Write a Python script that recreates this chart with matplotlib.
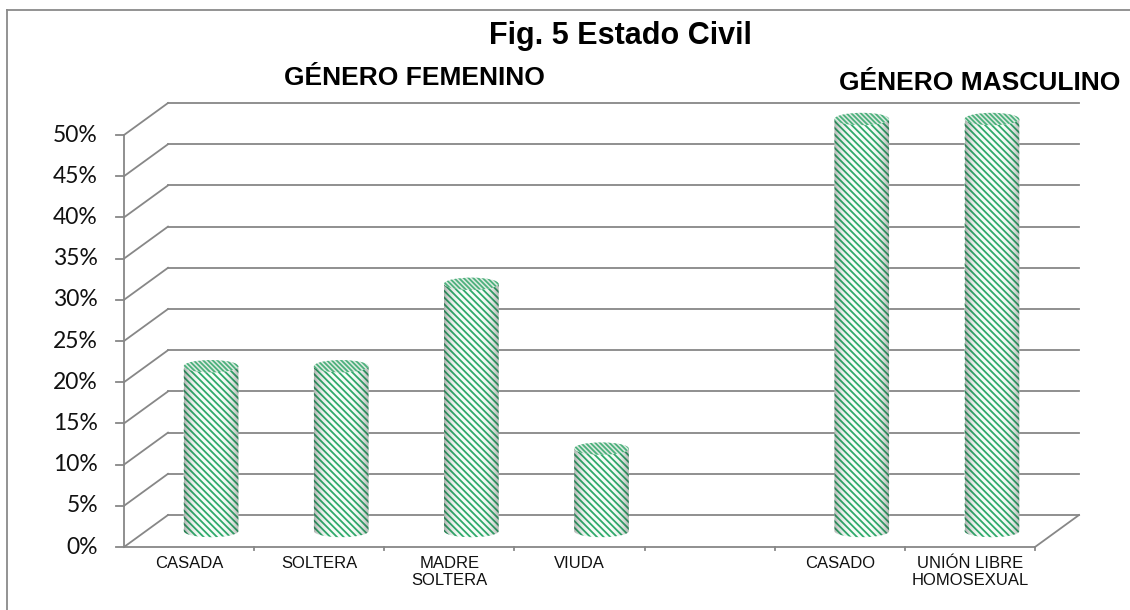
import numpy as np
import matplotlib.pyplot as plt
from matplotlib.patches import PathPatch, Ellipse
from matplotlib.path import Path
from matplotlib.lines import Line2D

# data
categories = ['CASADA', 'SOLTERA', 'MADRE\nSOLTERA', 'VIUDA', '',
              'CASADO', 'UNIÓN LIBRE\nHOMOSEXUAL']
values = [20, 20, 30, 10, np.nan, 50, 50]
yticks = list(range(0, 55, 5))

title = 'Fig. 5 Estado Civil'
group_labels = ['GÉNERO FEMENINO', 'GÉNERO MASCULINO']

GRID = '#878787'
GREEN = '#30aa6c'
DX, DY = 0.338, 3.88      # fake 3D depth offset (category units, percent units)
BAR_W = 0.42
ELL_H = 1.5
YMAX = 56                 # room above 50% for the cylinder lids

plt.rcParams['hatch.linewidth'] = 1.3


def cylinder(ax, cx, base, top):
    '''draw a hatched cylinder standing at base and ending at top'''
    x0, x1 = cx - BAR_W / 2, cx + BAR_W / 2
    th = np.linspace(np.pi, 2 * np.pi, 40)
    arc = np.column_stack([cx + BAR_W / 2 * np.cos(th),
                           base + ELL_H / 2 * np.sin(th)])
    verts = np.vstack([[x0, top], arc, [x1, top], [x0, top]])
    codes = [Path.MOVETO] + [Path.LINETO] * (len(verts) - 2) + [Path.CLOSEPOLY]
    body = PathPatch(Path(verts, codes), facecolor='#f8fdf9', edgecolor=GREEN,
                     hatch='\\' * 5, lw=0, zorder=3)
    ax.add_patch(body)
    # side shading of the cylinder
    u = np.linspace(-1, 1, 200)
    shade = np.zeros((2, 200, 4))
    shade[..., :3] = 0.15
    shade[..., 3] = 0.35 * np.abs(u) ** 4
    im = ax.imshow(shade, extent=(x0, x1, base - ELL_H / 2, top),
                   aspect='auto', zorder=4, interpolation='bilinear')
    im.set_clip_path(body)
    lid = Ellipse((cx, top), BAR_W, ELL_H, facecolor='#dfece3',
                  edgecolor='#4cb07c', hatch='\\' * 7, lw=0, zorder=5)
    ax.add_patch(lid)


fig = plt.figure(figsize=(11.3, 6.1), dpi=100)
ax = fig.add_axes([124 / 1130, 63 / 610, 911 / 1130, 412 / 610 * YMAX / 50])
n = len(categories)

# back wall and left wall
for t in yticks:
    ax.plot([DX, n + DX], [t + DY, t + DY], color=GRID, lw=1.3, zorder=1,
            clip_on=False)
    ax.plot([0, DX], [t, t + DY], color=GRID, lw=1.3, zorder=1, clip_on=False)
    ax.plot([-0.065, 0], [t, t], color=GRID, lw=1.3, zorder=6, clip_on=False)
    ax.text(-0.2, t, f'{t}%', ha='right', va='center', fontsize=16.5,
            family='Lato', color='#111111')

# floor and front axis
ax.plot([0, 0], [0, 50], color=GRID, lw=1.3, zorder=6, clip_on=False)
ax.plot([0, n], [0, 0], color=GRID, lw=1.3, zorder=6, clip_on=False)
ax.plot([n, n + DX], [0, DY], color=GRID, lw=1.3, zorder=6, clip_on=False)
for k in range(1, n + 1):
    ax.plot([k, k], [0, -0.4], color=GRID, lw=1.3, zorder=6, clip_on=False)

for i, (cat, v) in enumerate(zip(categories, values)):
    ax.text(i + 0.5, -1.1, cat, ha='center', va='top', fontsize=12,
            family='Liberation Sans', linespacing=1.15, color='#111111')
    if np.isnan(v):
        continue
    cylinder(ax, i + 0.5 + DX / 2, DY / 2, v + DY / 2)

ax.set_xlim(0, n)
ax.set_ylim(0, YMAX)
ax.axis('off')

# chart border
fig.add_artist(Line2D([7 / 1130, 7 / 1130], [0, 1 - 10 / 610],
                      transform=fig.transFigure, color='#8a8a8a', lw=1.3))
fig.add_artist(Line2D([7 / 1130, 1], [1 - 10 / 610, 1 - 10 / 610],
                      transform=fig.transFigure, color='#8a8a8a', lw=1.3))

fig.text(620 / 1130, 1 - 36 / 610, title, ha='center', va='center',
         fontsize=22, fontweight='bold', family='Liberation Sans')
fig.text(414 / 1130, 1 - 78 / 610, group_labels[0], ha='center', va='center',
         fontsize=19, fontweight='bold', family='Liberation Sans')
fig.text(980 / 1130, 1 - 83 / 610, group_labels[1], ha='center', va='center',
         fontsize=19, fontweight='bold', family='Liberation Sans')

fig.savefig('out.png', dpi=100)
